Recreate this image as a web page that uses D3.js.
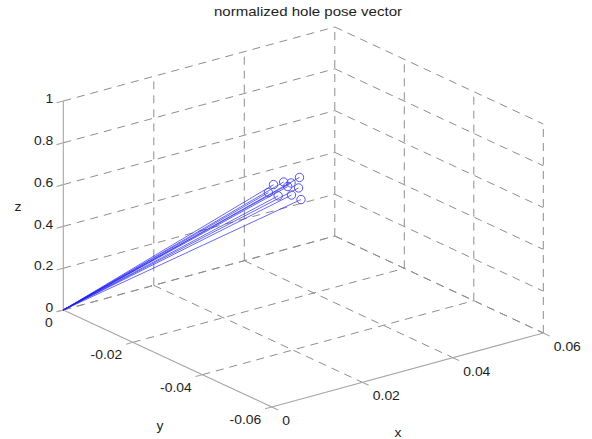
<!DOCTYPE html>
<html>
<head>
<meta charset="utf-8">
<script src="https://cdn.jsdelivr.net/npm/d3@7"></script>
<style>
  html, body { margin: 0; padding: 0; background: #fff; }
  svg { display: block; }
  text { font-family: "Liberation Sans", Arial, Helvetica, sans-serif; fill: #1e1e1e; }
</style>
</head>
<body>
<svg id="chart" width="592" height="439"></svg>
<script>
// ---- data ----
const title = "normalized hole pose vector";
const xTicks = [0, 0.02, 0.04, 0.06];
const yTicks = [0, -0.02, -0.04, -0.06];
const zTicks = [0, 0.2, 0.4, 0.6, 0.8, 1];
const xTickLabels = ["0", "0.02", "0.04", "0.06"];
const yTickLabels = ["0", "-0.02", "-0.04", "-0.06"];
const zTickLabels = ["0", "0.2", "0.4", "0.6", "0.8", "1"];
// vector end points (start at origin)
const vecX = [0.0311, 0.0318, 0.0319, 0.0330, 0.0351, 0.0315, 0.0329, 0.0343, 0.0364, 0.0327];
const vecY = [-0.020, -0.022, -0.024, -0.025, -0.022, -0.018, -0.019, -0.021, -0.021, -0.022];
const vecZ = [0.571, 0.595, 0.605, 0.633, 0.547, 0.515, 0.499, 0.510, 0.476, 0.568];

// ---- projection layout ----
const O = [63.3, 310];        // screen position of (0,0,0)
const EX = [271.5, -74];      // screen vector spanning full x range
const EY = [208.5, 97];       // screen vector spanning full y range
const EZ = -209;              // screen vector spanning full z range (vertical)

const sx = d3.scaleLinear().domain([0, 0.06]).range([0, 1]);
const sy = d3.scaleLinear().domain([0, -0.06]).range([0, 1]);
const sz = d3.scaleLinear().domain([0, 1]).range([0, 1]);

function proj(x, y, z) {
  const u = sx(x), v = sy(y), w = sz(z);
  return [O[0] + u * EX[0] + v * EY[0], O[1] + u * EX[1] + v * EY[1] + w * EZ];
}

const svg = d3.select("#chart");
const gridG = svg.append("g");
const axisG = svg.append("g");
const dataG = svg.append("g");
const textG = svg.append("g");

const xMin = 0, xMax = 0.06, yMin = 0, yMax = -0.06, zMin = 0, zMax = 1;
const gridStyle = sel => sel.attr("stroke", "#8e8e8e").attr("stroke-width", 1)
  .attr("stroke-dasharray", "8,6").attr("fill", "none");

function seg(g, a, b) {
  return g.append("line").attr("x1", a[0]).attr("y1", a[1]).attr("x2", b[0]).attr("y2", b[1]);
}

// floor grid (z = 0)
xTicks.filter(t => t !== xMin).forEach(t => gridStyle(seg(gridG, proj(t, yMin, zMin), proj(t, yMax, zMin))));
yTicks.filter(t => t !== yMax).forEach(t => gridStyle(seg(gridG, proj(xMin, t, zMin), proj(xMax, t, zMin))));
// back wall (y = 0)
xTicks.filter(t => t !== xMin).forEach(t => gridStyle(seg(gridG, proj(t, yMin, zMin), proj(t, yMin, zMax))));
zTicks.forEach(t => gridStyle(seg(gridG, proj(xMin, yMin, t), proj(xMax, yMin, t))));
// side wall (x = 0.06)
yTicks.filter(t => t !== yMin).forEach(t => gridStyle(seg(gridG, proj(xMax, t, zMin), proj(xMax, t, zMax))));
zTicks.forEach(t => gridStyle(seg(gridG, proj(xMax, yMin, t), proj(xMax, yMax, t))));

// axes lines
const axisStyle = sel => sel.attr("stroke", "#a6a6a6").attr("stroke-width", 1.1).attr("fill", "none");
axisStyle(seg(axisG, proj(xMin, yMin, zMin), proj(xMin, yMin, zMax)));   // z axis
axisStyle(seg(axisG, proj(xMin, yMin, zMin), proj(xMin, yMax, zMin)));   // y axis
axisStyle(seg(axisG, proj(xMin, yMax, zMin), proj(xMax, yMax, zMin)));   // x axis

const exLen = Math.hypot(EX[0], EX[1]), eyLen = Math.hypot(EY[0], EY[1]);
const tl = 7;
const dxT = [-EX[0] / exLen * tl, -EX[1] / exLen * tl];
const dyT = [EY[0] / eyLen * tl, EY[1] / eyLen * tl];
zTicks.forEach(t => { const p = proj(xMin, yMin, t); axisStyle(seg(axisG, p, [p[0] + dxT[0], p[1] + dxT[1]])); });
yTicks.forEach(t => { const p = proj(xMin, t, zMin); axisStyle(seg(axisG, p, [p[0] + dxT[0], p[1] + dxT[1]])); });
xTicks.forEach(t => { const p = proj(t, yMax, zMin); axisStyle(seg(axisG, p, [p[0] + dyT[0], p[1] + dyT[1]])); });

// data vectors
const pts = vecX.map((x, i) => ({ x, y: vecY[i], z: vecZ[i] }));
const o = proj(0, 0, 0);
dataG.selectAll("line.vec").data(pts).join("line").attr("class", "vec")
  .attr("x1", o[0]).attr("y1", o[1])
  .attr("x2", d => proj(d.x, d.y, d.z)[0]).attr("y2", d => proj(d.x, d.y, d.z)[1])
  .attr("stroke", "#1f1fff").attr("stroke-width", 0.75).attr("stroke-opacity", 0.9);
dataG.selectAll("circle.mk").data(pts).join("circle").attr("class", "mk")
  .attr("cx", d => proj(d.x, d.y, d.z)[0]).attr("cy", d => proj(d.x, d.y, d.z)[1])
  .attr("r", 4.2).attr("fill", "none").attr("stroke", "#4040ff").attr("stroke-width", 0.9);

// tick labels
const fs = 13, sc = 1.07;
function label(txt, x, y, anchor) {
  textG.append("text").attr("transform", `translate(${x},${y}) scale(${sc},1)`)
    .attr("text-anchor", anchor).attr("font-size", fs).text(txt);
}
zTicks.forEach((t, i) => { const p = proj(xMin, yMin, t); label(zTickLabels[i], p[0] - 10, p[1] - 2.5 + 4.6, "end"); });
yTicks.forEach((t, i) => { const p = proj(xMin, t, zMin); label(yTickLabels[i], p[0] - 10.5, p[1] + 17, "end"); });
xTicks.forEach((t, i) => { const p = proj(t, yMax, zMin); label(xTickLabels[i], p[0] + 10.5, p[1] + 18, "start"); });

// axis labels
label("x", 398, 437, "middle");
label("y", 160, 430, "middle");
label("z", 18, 211, "middle");

// title
textG.append("text").attr("x", 214).attr("y", 15.5).attr("font-size", 13)
  .attr("textLength", 188).attr("lengthAdjust", "spacingAndGlyphs").text(title);
</script>
</body>
</html>
